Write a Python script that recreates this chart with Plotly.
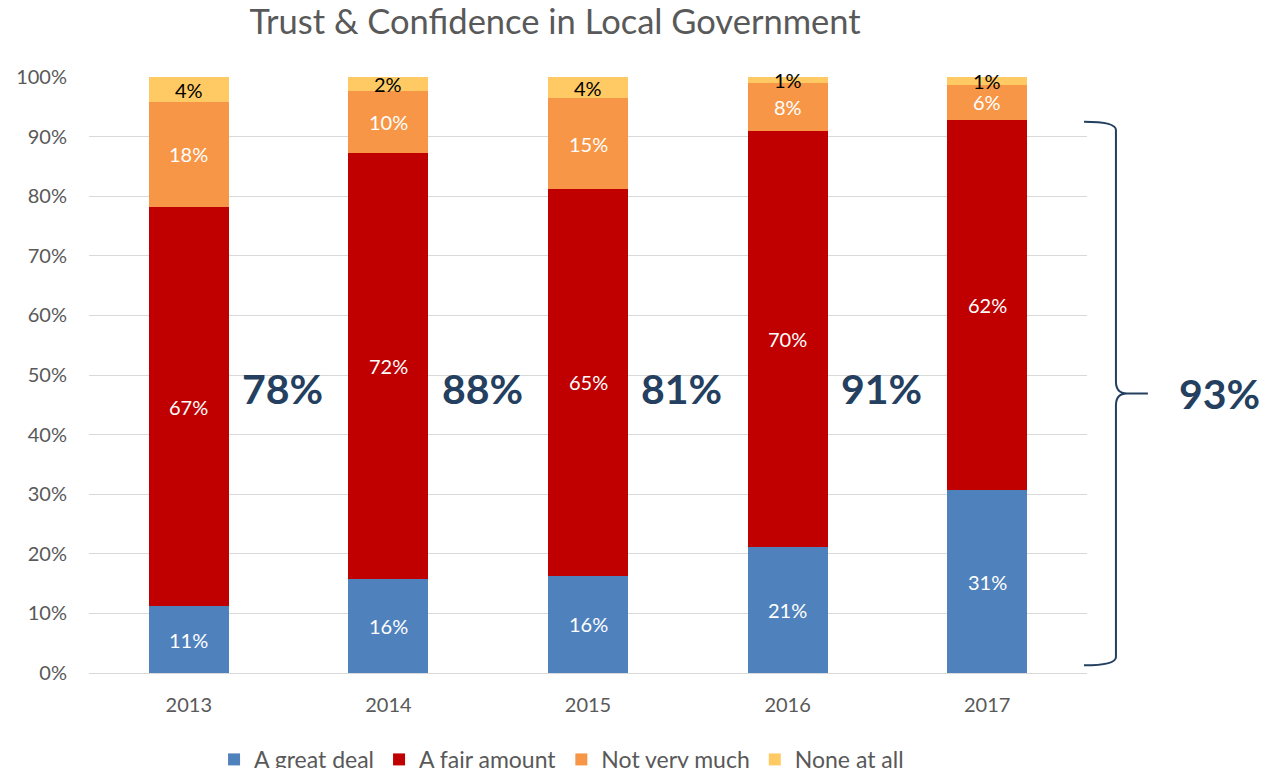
import plotly.graph_objects as go

years = ["2013", "2014", "2015", "2016", "2017"]
great_deal = [11.2, 15.7, 16.3, 21.1, 30.7]
fair_amount = [67.0, 71.6, 64.9, 69.8, 62.1]
not_very_much = [17.6, 10.4, 15.2, 8.1, 5.9]
none_at_all = [4.2, 2.3, 3.6, 1.0, 1.3]
series_names = ["A great deal", "A fair amount", "Not very much", "None at all"]
title_text = "Trust & Confidence in Local Government"

colors = ["#4F81BD", "#C00000", "#F79646", "#FFCA63"]
text_colors = ["white", "white", "white", "black"]
FONT = "Lato"
GRAY = "#595959"
NAVY = "#243F60"

series = [great_deal, fair_amount, not_very_much, none_at_all]

fig = go.Figure()
for name, vals, col in zip(series_names, series, colors):
    fig.add_trace(go.Bar(
        x=years, y=vals, name=name, width=0.4,
        marker=dict(color=col, line=dict(width=0)),
        hoverinfo="skip",
    ))

annotations = []
# segment value labels, centred in each stacked segment
base = [0.0] * len(years)
for vals, tcol in zip(series, text_colors):
    for i, v in enumerate(vals):
        annotations.append(dict(
            x=i, y=base[i] + v / 2, xref="x", yref="y",
            text=f"{v:.0f}%", showarrow=False, xanchor="center", yanchor="middle",
            font=dict(family=FONT, size=20, color=tcol),
        ))
        base[i] += v

# trust totals (great deal + fair amount, rounded as displayed)
totals = [round(g) + round(f) for g, f in zip(great_deal, fair_amount)]
for i, t in enumerate(totals[:-1]):
    annotations.append(dict(
        x=i + 0.47, y=47.8, xref="x", yref="y", text=f"<b>{t}%</b>",
        showarrow=False, xanchor="center", yanchor="middle",
        font=dict(family=FONT, size=41, color=NAVY),
    ))
annotations.append(dict(
    x=1.133, y=46.9, xref="paper", yref="y", text=f"<b>{totals[-1]}%</b>",
    showarrow=False, xanchor="center", yanchor="middle",
    font=dict(family=FONT, size=41, color=NAVY),
))

# curly brace
x0, xv, xc, xt = 0.997, 1.029, 1.040, 1.061
yt, ym, yb = 92.5, 46.9, 1.3
path = (f"M{x0},{yt} Q{xv},{yt} {xv},{yt-1.4} L{xv},{ym+2.0} "
        f"Q{xv},{ym} {xc},{ym} L{xt},{ym} M{xc},{ym} "
        f"Q{xv},{ym} {xv},{ym-2.0} L{xv},{yb+1.4} Q{xv},{yb} {x0},{yb}")

fig.update_layout(
    width=1279, height=768,
    barmode="stack",
    paper_bgcolor="white", plot_bgcolor="white",
    margin=dict(l=81, r=200, t=69, b=103, autoexpand=False),
    title=dict(text=title_text, x=0.467, xref="paper", xanchor="center",
               y=1 - 14 / 768, yanchor="middle",
               font=dict(family=FONT, size=34.5, color=GRAY)),
    xaxis=dict(type="category", range=[-0.5, 4.5], showgrid=False, showline=False,
               ticks="", tickfont=dict(family=FONT, size=20, color=GRAY),
               ticklabelstandoff=18),
    yaxis=dict(range=[0, 100], dtick=10, ticksuffix="%",
               gridcolor="#D9D9D9", gridwidth=1.3,
               zeroline=True, zerolinecolor="#D9D9D9", zerolinewidth=1.3,
               showline=False, ticks="",
               tickfont=dict(family=FONT, size=20, color=GRAY),
               ticklabelstandoff=21),
    legend=dict(orientation="h", x=0.4735, xanchor="center", y=-0.109, yanchor="top",
                font=dict(family=FONT, size=23, color=GRAY), traceorder="normal"),
    annotations=annotations,
    shapes=[dict(type="path", path=path, xref="paper", yref="y",
                 line=dict(color=NAVY, width=2))],
    showlegend=True,
)

fig.write_html("out.html")
